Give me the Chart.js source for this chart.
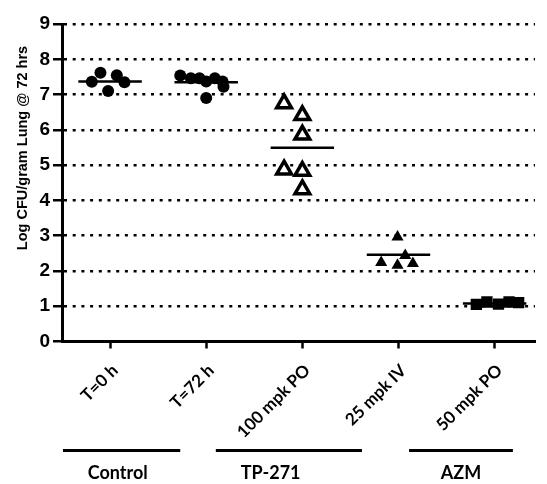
<!DOCTYPE html>
<html>
<head>
<meta charset="utf-8">
<script src="https://cdn.jsdelivr.net/npm/chart.js@4.4.0/dist/chart.umd.min.js"></script>
<style>
  html, body { margin: 0; padding: 0; background: #fff; }
  canvas { display: block; }
</style>
</head>
<body>
<canvas id="cfuChart" width="547" height="484"></canvas>
<script>
// categories on the x axis (index = position)
const categories = ['T=0 h', 'T=72 h', '100 mpk PO', '25 mpk IV', '50 mpk PO'];

// individual animals: x jitter around the category, y = log CFU
const t0Jitter = [-0.19, -0.10, -0.02, 0.07, 0.15];
const t0Values = [7.36, 7.62, 7.10, 7.55, 7.35];

const t72Jitter = [-0.27, -0.16, -0.07, 0.00, 0.09, 0.17, 0.18, 0.00];
const t72Values = [7.54, 7.46, 7.46, 7.37, 7.46, 7.37, 7.22, 6.90];

const po100Jitter = [-0.19, 0.00, 0.00, -0.19, 0.00, 0.00];
const po100Values = [6.75, 6.41, 5.86, 4.87, 4.83, 4.31];

const iv25Jitter = [-0.01, 0.07, -0.18, -0.01, 0.15];
const iv25Values = [2.96, 2.44, 2.24, 2.16, 2.21];

const azmJitter = [-0.19, -0.08, 0.04, 0.15, 0.25];
const azmValues = [1.05, 1.12, 1.06, 1.12, 1.10];

// group means (horizontal bars)
const groupMeans = [7.37, 7.35, 5.49, 2.46, 1.08];

// y axis ticks
const yTicks = [0, 1, 2, 3, 4, 5, 6, 7, 8, 9];

// treatment groups under the axis (in x axis units)
const groupNames = ['Control', 'TP-271', 'AZM'];
const groupFrom = [-0.49, 1.10, 3.11];
const groupTo = [0.73, 2.62, 4.19];
const groupLabelAt = [0.08, 1.67, 3.65];

const yTitle = 'Log CFU/gram Lung @ 72 hrs';

function toPoints(catIndex, jitter, values) {
    return values.map((v, i) => ({ x: catIndex + jitter[i], y: v }));
}

// mean bars as one broken line
const meanPoints = [];
groupMeans.forEach((m, i) => {
    meanPoints.push({ x: i - 0.33, y: m });
    meanPoints.push({ x: i + 0.33, y: m });
    meanPoints.push({ x: i + 0.4, y: null });
});

// draws the rotated y title and the group brackets
const extrasPlugin = {
    id: 'extras',
    afterDraw(chart) {
        const ctx = chart.ctx;
        const xs = chart.scales.x;
        ctx.save();
        ctx.fillStyle = '#000';
        ctx.strokeStyle = '#000';

        // y title
        ctx.save();
        ctx.translate(23, 148);
        ctx.rotate(-Math.PI / 2);
        ctx.font = 'bold 14.5px "Liberation Sans", Arial, sans-serif';
        ctx.textAlign = 'center';
        ctx.textBaseline = 'middle';
        ctx.fillText(yTitle, 0, 0);
        ctx.restore();

        // group lines + names
        ctx.lineWidth = 3;
        ctx.font = 'bold 18px Lato, sans-serif';
        ctx.textAlign = 'center';
        ctx.textBaseline = 'middle';
        groupNames.forEach((name, i) => {
            ctx.beginPath();
            ctx.moveTo(xs.getPixelForValue(groupFrom[i]), 450.5);
            ctx.lineTo(xs.getPixelForValue(groupTo[i]), 450.5);
            ctx.stroke();
            ctx.fillText(name, xs.getPixelForValue(groupLabelAt[i]), 473);
        });
        ctx.restore();
    }
};

const ctx = document.getElementById('cfuChart');

new Chart(ctx, {
    type: 'scatter',
    data: {
        datasets: [
            {
                label: categories[0],
                data: toPoints(0, t0Jitter, t0Values),
                pointStyle: 'circle',
                pointRadius: 6,
                backgroundColor: '#000',
                borderColor: '#000',
                borderWidth: 0
            },
            {
                label: categories[1],
                data: toPoints(1, t72Jitter, t72Values),
                pointStyle: 'circle',
                pointRadius: 6,
                backgroundColor: '#000',
                borderColor: '#000',
                borderWidth: 0
            },
            {
                label: categories[2],
                data: toPoints(2, po100Jitter, po100Values),
                pointStyle: 'triangle',
                pointRadius: 8.5,
                backgroundColor: '#fff',
                borderColor: '#000',
                borderWidth: 3.5
            },
            {
                label: categories[3],
                data: toPoints(3, iv25Jitter, iv25Values),
                pointStyle: 'triangle',
                pointRadius: 7,
                backgroundColor: '#000',
                borderColor: '#000',
                borderWidth: 0
            },
            {
                label: categories[4],
                data: toPoints(4, azmJitter, azmValues),
                pointStyle: 'rect',
                pointRadius: 8,
                backgroundColor: '#000',
                borderColor: '#000',
                borderWidth: 0
            },
            {
                label: 'Mean',
                type: 'line',
                data: meanPoints,
                showLine: true,
                spanGaps: false,
                borderColor: '#000',
                borderWidth: 2.5,
                pointRadius: 0
            }
        ]
    },
    options: {
        responsive: false,
        animation: false,
        devicePixelRatio: 1,
        layout: { padding: { top: 24, right: 0, bottom: 0, left: 0 } },
        scales: {
            x: {
                type: 'linear',
                min: -0.5,
                max: 4.42,
                afterBuildTicks: (scale) => {
                    scale.ticks = categories.map((c, i) => ({ value: i }));
                },
                afterFit: (scale) => { scale.height = 142.5; },
                ticks: {
                    autoSkip: false,
                    minRotation: 45,
                    maxRotation: 45,
                    padding: 12,
                    labelOffset: 5,
                    color: '#000',
                    font: { family: 'Lato', weight: 'bold', size: 17 },
                    callback: (value) => categories[Math.round(value)]
                },
                grid: {
                    drawOnChartArea: false,
                    drawTicks: true,
                    tickLength: 7,
                    tickColor: '#000',
                    tickWidth: 2.5
                },
                border: { display: true, color: '#000', width: 3 }
            },
            y: {
                min: 0,
                max: 9,
                afterBuildTicks: (scale) => {
                    scale.ticks = yTicks.map(v => ({ value: v }));
                },
                afterFit: (scale) => { scale.width = 62; },
                ticks: {
                    padding: 3,
                    color: '#000',
                    font: { family: '"Liberation Sans", Arial', weight: 'bold', size: 19 }
                },
                grid: {
                    color: (c) => (c.tick && c.tick.value === 0 ? 'rgba(0,0,0,0)' : '#000'),
                    lineWidth: 2.5,
                    tickColor: '#000',
                    tickWidth: 2.5,
                    tickLength: 9,
                    tickBorderDash: []
                },
                border: { display: true, color: '#000', width: 3, dash: [3, 5.7] }
            }
        },
        plugins: {
            legend: { display: false },
            tooltip: { enabled: false }
        }
    },
    plugins: [extrasPlugin]
});
</script>
</body>
</html>
